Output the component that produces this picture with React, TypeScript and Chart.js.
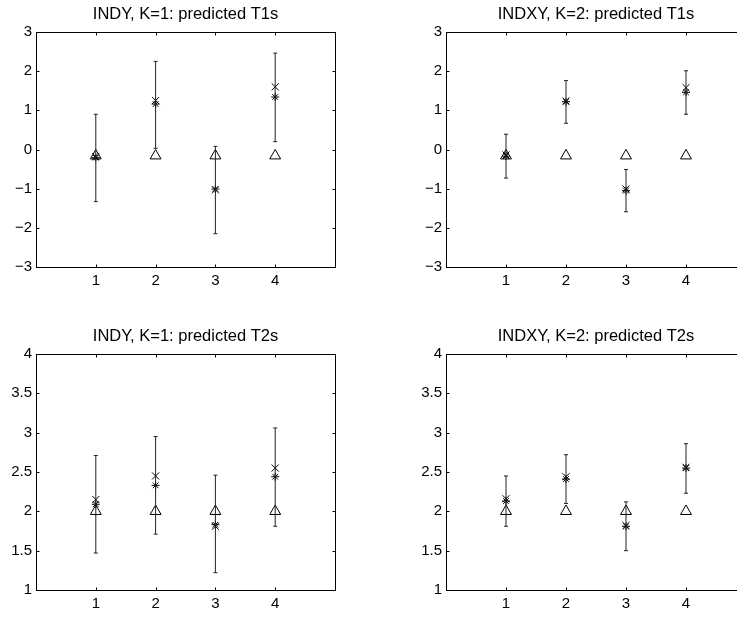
import React, { useEffect, useRef } from "react";
import { Chart, registerables } from "chart.js";

Chart.register(...registerables);

// ---------- data ----------
const categories = [1, 2, 3, 4];
const xTickValues = [1, 2, 3, 4];
const t1TickValues = [-3, -2, -1, 0, 1, 2, 3];
const t2TickValues = [1, 1.5, 2, 2.5, 3, 3.5, 4];

// INDY, K=1: predicted T1s
const indyT1True = [-0.16, -0.16, -0.16, -0.16];
const indyT1Star = [-0.21, 1.16, -1.01, 1.34];
const indyT1X = [-0.18, 1.25, -1.03, 1.6];
const indyT1Lo = [-1.33, 0.03, -2.15, 0.2];
const indyT1Hi = [0.9, 2.25, 0.08, 2.46];

// INDXY, K=2: predicted T1s
const indxyT1True = [-0.16, -0.16, -0.16, -0.16];
const indxyT1Star = [-0.17, 1.22, -1.05, 1.46];
const indxyT1X = [-0.14, 1.24, -1.01, 1.58];
const indxyT1Lo = [-0.73, 0.67, -1.59, 0.9];
const indxyT1Hi = [0.39, 1.76, -0.51, 2.01];

// INDY, K=1: predicted T2s
const indyT2True = [2, 2, 2, 2];
const indyT2Star = [2.09, 2.33, 1.83, 2.44];
const indyT2X = [2.15, 2.45, 1.81, 2.55];
const indyT2Lo = [1.47, 1.71, 1.22, 1.81];
const indyT2Hi = [2.71, 2.95, 2.46, 3.06];

// INDXY, K=2: predicted T2s
const indxyT2True = [2, 2, 2, 2];
const indxyT2Star = [2.13, 2.41, 1.81, 2.55];
const indxyT2X = [2.16, 2.44, 1.82, 2.56];
const indxyT2Lo = [1.81, 2.1, 1.5, 2.23];
const indxyT2Hi = [2.45, 2.72, 2.12, 2.86];

const FONT = "'Liberation Sans', Arial, Helvetica, sans-serif";

type PanelCfg = {
  title: string;
  truth: number[];
  star: number[];
  xm: number[];
  lo: number[];
  hi: number[];
  yMin: number;
  yMax: number;
  yTicks: number[];
  box: { left: number; top: number; right: number; bottom: number };
};

const panels: PanelCfg[] = [
  {
    title: "INDY, K=1: predicted T1s",
    truth: indyT1True, star: indyT1Star, xm: indyT1X, lo: indyT1Lo, hi: indyT1Hi,
    yMin: -3, yMax: 3, yTicks: t1TickValues,
    box: { left: 36, top: 32, right: 335, bottom: 267 },
  },
  {
    title: "INDXY, K=2: predicted T1s",
    truth: indxyT1True, star: indxyT1Star, xm: indxyT1X, lo: indxyT1Lo, hi: indxyT1Hi,
    yMin: -3, yMax: 3, yTicks: t1TickValues,
    box: { left: 446, top: 32, right: 746, bottom: 267 },
  },
  {
    title: "INDY, K=1: predicted T2s",
    truth: indyT2True, star: indyT2Star, xm: indyT2X, lo: indyT2Lo, hi: indyT2Hi,
    yMin: 1, yMax: 4, yTicks: t2TickValues,
    box: { left: 36, top: 354, right: 335, bottom: 590 },
  },
  {
    title: "INDXY, K=2: predicted T2s",
    truth: indxyT2True, star: indxyT2Star, xm: indxyT2X, lo: indxyT2Lo, hi: indxyT2Hi,
    yMin: 1, yMax: 4, yTicks: t2TickValues,
    box: { left: 446, top: 354, right: 746, bottom: 590 },
  },
];

const Y_AXIS_W = 40;
const TITLE_H = 32;
const X_AXIS_H = 30;

function fmt(v: number): string {
  return v < 0 ? "\u2212" + String(Math.abs(v)) : String(v);
}

function Panel({ cfg }: { cfg: PanelCfg }) {
  const ref = useRef<HTMLCanvasElement | null>(null);
  const cLeft = cfg.box.left - Y_AXIS_W;
  const cTop = cfg.box.top - TITLE_H;
  const cW = cfg.box.right - cLeft + Y_AXIS_W;
  const cH = cfg.box.bottom - cTop + X_AXIS_H;

  useEffect(() => {
    if (!ref.current) return;
    const pts = (arr: number[]) => categories.map((c, i) => ({ x: c, y: arr[i] }));

    const matlabPlugin = {
      id: "matlabAxes",
      afterDatasetsDraw(chart: any) {
        const { ctx, chartArea: a } = chart;
        const xs = chart.scales.x;
        const ys = chart.scales.y;
        ctx.save();
        ctx.lineWidth = 1;
        // error bars
        ctx.strokeStyle = "#222";
        categories.forEach((c, i) => {
          const px = xs.getPixelForValue(c);
          const pLo = ys.getPixelForValue(cfg.lo[i]);
          const pHi = ys.getPixelForValue(cfg.hi[i]);
          ctx.beginPath();
          ctx.moveTo(px, pLo);
          ctx.lineTo(px, pHi);
          ctx.moveTo(px - 2, pLo);
          ctx.lineTo(px + 2, pLo);
          ctx.moveTo(px - 2, pHi);
          ctx.lineTo(px + 2, pHi);
          ctx.stroke();
        });
        // box
        ctx.strokeStyle = "#000";
        const L = Math.round(a.left) + 0.5;
        const R = Math.round(a.right) + 0.5;
        const T = Math.round(a.top) + 0.5;
        const B = Math.round(a.bottom) + 0.5;
        ctx.strokeRect(L, T, R - L, B - T);
        // inward ticks
        const tl = 3;
        ctx.beginPath();
        xs.ticks.forEach((t: any) => {
          const px = Math.round(xs.getPixelForValue(t.value)) + 0.5;
          ctx.moveTo(px, B);
          ctx.lineTo(px, B - tl);
          ctx.moveTo(px, T);
          ctx.lineTo(px, T + tl);
        });
        ys.ticks.forEach((t: any) => {
          const py = Math.round(ys.getPixelForValue(t.value)) + 0.5;
          ctx.moveTo(L, py);
          ctx.lineTo(L + tl, py);
          ctx.moveTo(R, py);
          ctx.lineTo(R - tl, py);
        });
        ctx.stroke();
        ctx.restore();
      },
    };

    const chart = new Chart(ref.current, {
      type: "scatter",
      data: {
        datasets: [
          {
            label: "true",
            data: pts(cfg.truth),
            pointStyle: "triangle",
            pointRadius: 6.3,
            pointBorderWidth: 1,
            borderColor: "#000",
            backgroundColor: "rgba(0,0,0,0)",
          },
          {
            label: "x",
            data: pts(cfg.xm),
            pointStyle: "crossRot",
            pointRadius: 5,
            pointBorderWidth: 1,
            borderColor: "#000",
            backgroundColor: "#000",
          },
          {
            label: "mean",
            data: pts(cfg.star),
            pointStyle: "star",
            pointRadius: 4,
            pointBorderWidth: 1,
            borderColor: "#000",
            backgroundColor: "#000",
          },
        ],
      },
      options: {
        responsive: false,
        animation: false,
        devicePixelRatio: 1,
        layout: { padding: 0 },
        plugins: {
          legend: { display: false },
          tooltip: { enabled: false },
          title: {
            display: true,
            text: cfg.title,
            color: "#000",
            font: { family: FONT, size: 16.5, weight: "normal", lineHeight: 1.2 },
            padding: { top: 5, bottom: 7.2 },
          },
        },
        scales: {
          x: {
            type: "linear",
            min: 0,
            max: 5,
            grid: { display: false, drawTicks: false },
            border: { display: false },
            afterBuildTicks: (s: any) => {
              s.ticks = xTickValues.map((v) => ({ value: v }));
            },
            afterFit: (s: any) => {
              s.height = X_AXIS_H;
            },
            ticks: {
              color: "#000",
              font: { family: FONT, size: 15 },
              padding: 5,
              maxRotation: 0,
              callback: (v: any) => fmt(Number(v)),
            },
          },
          y: {
            type: "linear",
            position: "left",
            min: cfg.yMin,
            max: cfg.yMax,
            grid: { display: false, drawTicks: false },
            border: { display: false },
            afterBuildTicks: (s: any) => {
              s.ticks = cfg.yTicks.map((v) => ({ value: v }));
            },
            afterFit: (s: any) => {
              s.width = Y_AXIS_W;
            },
            ticks: {
              color: "#000",
              font: { family: FONT, size: 15 },
              padding: 4,
              callback: (v: any) => fmt(Number(v)),
            },
          },
          yRight: {
            type: "linear",
            position: "right",
            min: cfg.yMin,
            max: cfg.yMax,
            display: true,
            grid: { display: false, drawTicks: false },
            border: { display: false },
            ticks: { display: false },
            afterFit: (s: any) => {
              s.width = Y_AXIS_W;
            },
          },
        },
      } as any,
      plugins: [matlabPlugin],
    });
    return () => chart.destroy();
  }, []);

  return (
    <canvas
      ref={ref}
      width={cW}
      height={cH}
      style={{ position: "absolute", left: cLeft, top: cTop, width: cW, height: cH }}
    />
  );
}

export default function App() {
  return (
    <div
      style={{
        position: "absolute",
        left: 0,
        top: 0,
        width: 737,
        height: 618,
        overflow: "hidden",
        background: "#fff",
      }}
    >
      {panels.map((p, i) => (
        <Panel key={i} cfg={p} />
      ))}
    </div>
  );
}
